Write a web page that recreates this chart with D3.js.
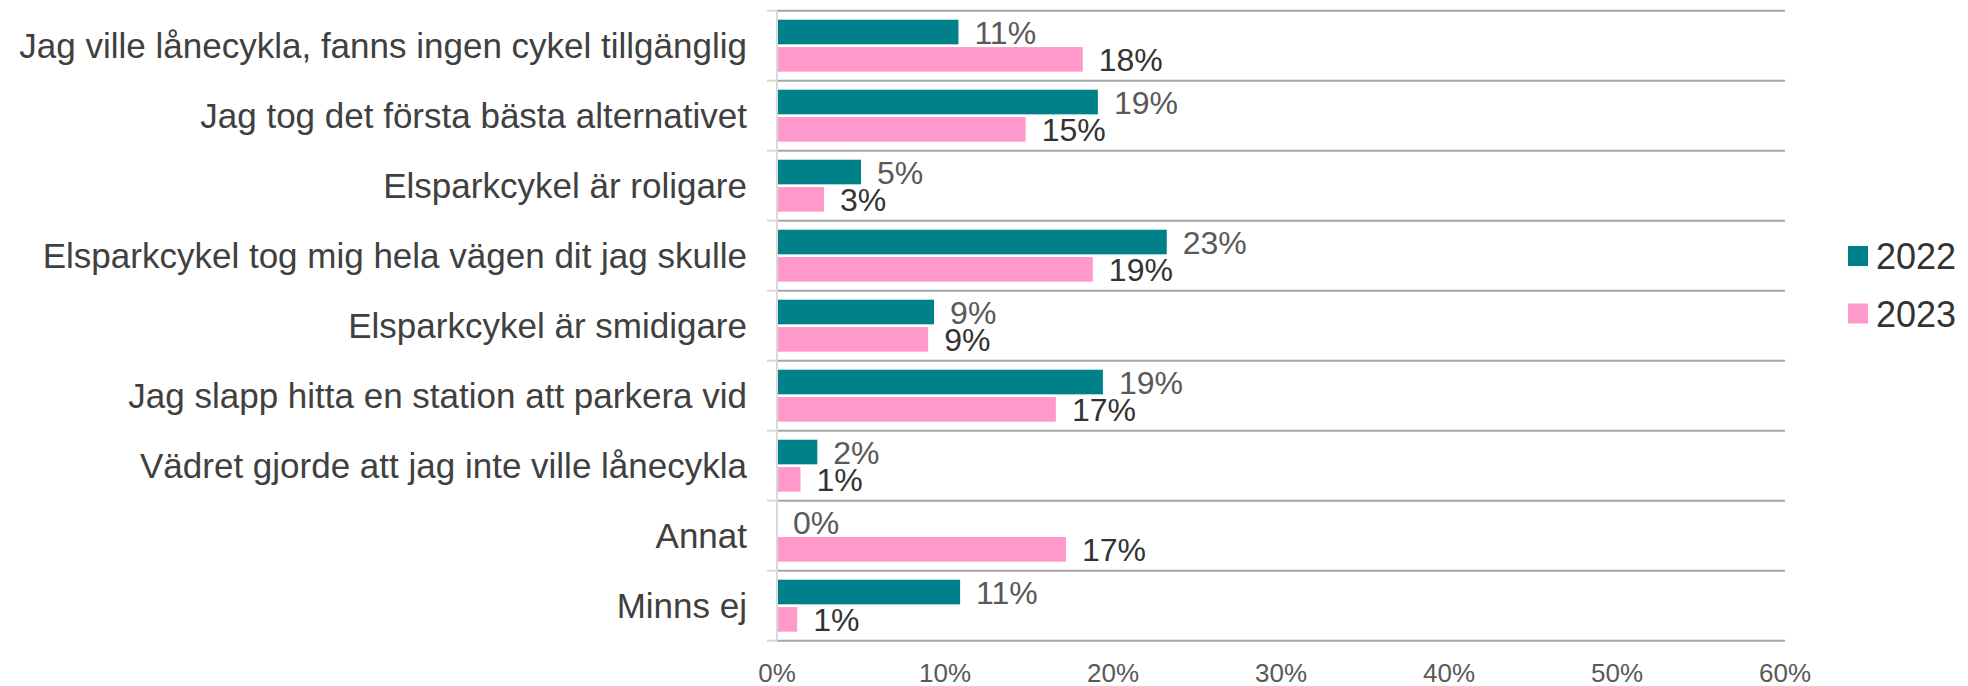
<!DOCTYPE html>
<html>
<head>
<meta charset="utf-8">
<script src="https://cdn.jsdelivr.net/npm/d3@7"></script>
<style>
  body { margin: 0; background: #fff; }
  text { font-family: "Liberation Sans", Arial, sans-serif; }
</style>
</head>
<body>
<svg width="1968" height="686"></svg>
<script>
var categories = [
  "Jag ville lånecykla, fanns ingen cykel tillgänglig",
  "Jag tog det första bästa alternativet",
  "Elsparkcykel är roligare",
  "Elsparkcykel tog mig hela vägen dit jag skulle",
  "Elsparkcykel är smidigare",
  "Jag slapp hitta en station att parkera vid",
  "Vädret gjorde att jag inte ville lånecykla",
  "Annat",
  "Minns ej"
];
var years = ["2022", "2023"];
var values2022 = [10.8, 19.1, 5.0, 23.2, 9.35, 19.4, 2.4, 0, 10.9];
var values2023 = [18.2, 14.8, 2.8, 18.8, 9.0, 16.6, 1.4, 17.2, 1.2];
var ticks = [0, 10, 20, 30, 40, 50, 60];

var colors = { "2022": "#00818a", "2023": "#ff99cc" };
var labelColors = { "2022": "#595959", "2023": "#333333" };

var svg = d3.select("svg"),
    plotLeft = 777, plotRight = 1785, plotTop = 10.7, plotBottom = 640.7;

var x = d3.scaleLinear().domain([0, 60]).range([plotLeft, plotRight]);
var y = d3.scaleBand().domain(categories).range([plotTop, plotBottom]);
var y2 = d3.scaleBand().domain(years).range([0, y.bandwidth()]).paddingInner(0.1).paddingOuter(0.33);

var rows = categories.map(function(c, i) {
  return { cat: c, vals: [ { year: "2022", v: values2022[i] }, { year: "2023", v: values2023[i] } ] };
});

// grid lines at category boundaries
var bounds = categories.map(function(c) { return y(c); }).concat([plotBottom]);
svg.selectAll(".grid").data(bounds).enter().append("line")
    .attr("x1", plotLeft).attr("x2", plotRight)
    .attr("y1", function(d) { return d; }).attr("y2", function(d) { return d; })
    .attr("stroke", "#a6a6a6").attr("stroke-width", 2);
svg.selectAll(".tick-mark").data(bounds).enter().append("line")
    .attr("x1", plotLeft - 10).attr("x2", plotLeft)
    .attr("y1", function(d) { return d; }).attr("y2", function(d) { return d; })
    .attr("stroke", "#d9d9d9").attr("stroke-width", 2);

var g = svg.selectAll(".row").data(rows).enter().append("g")
    .attr("transform", function(d) { return "translate(0," + y(d.cat) + ")"; });

g.selectAll("rect").data(function(d) { return d.vals; }).enter().append("rect")
    .attr("x", plotLeft)
    .attr("y", function(d) { return y2(d.year); })
    .attr("width", function(d) { return x(d.v) - plotLeft; })
    .attr("height", y2.bandwidth())
    .attr("fill", function(d) { return colors[d.year]; });

g.selectAll(".lbl").data(function(d) { return d.vals; }).enter().append("text")
    .attr("x", function(d) { return x(d.v) + 16; })
    .attr("y", function(d) { return y2(d.year) + y2.bandwidth() / 2; })
    .attr("dy", "0.36em")
    .attr("font-size", 32)
    .attr("fill", function(d) { return labelColors[d.year]; })
    .text(function(d) { return Math.round(d.v) + "%"; });

// vertical axis line
svg.append("line")
    .attr("x1", plotLeft).attr("x2", plotLeft).attr("y1", plotTop).attr("y2", plotBottom)
    .attr("stroke", "#d9d9d9").attr("stroke-width", 2);

// category labels
svg.selectAll(".cat").data(categories).enter().append("text")
    .attr("x", plotLeft - 30)
    .attr("y", function(d) { return y(d) + y.bandwidth() / 2; })
    .attr("dy", "0.36em")
    .attr("text-anchor", "end")
    .attr("font-size", 35)
    .attr("fill", "#404040")
    .text(function(d) { return d; });

// x tick labels
svg.selectAll(".xt").data(ticks).enter().append("text")
    .attr("x", function(d) { return x(d); })
    .attr("y", 682)
    .attr("text-anchor", "middle")
    .attr("font-size", 26)
    .attr("fill", "#595959")
    .text(function(d) { return d + "%"; });

// legend
var leg = svg.selectAll(".leg").data(years).enter().append("g")
    .attr("transform", function(d, i) { return "translate(1848," + (246 + i * 57.5) + ")"; });
leg.append("rect").attr("width", 20).attr("height", 20)
    .attr("fill", function(d) { return colors[d]; });
leg.append("text").attr("x", 28).attr("y", 23)
    .attr("font-size", 36).attr("fill", "#333333")
    .text(function(d) { return d; });
</script>
</body>
</html>
